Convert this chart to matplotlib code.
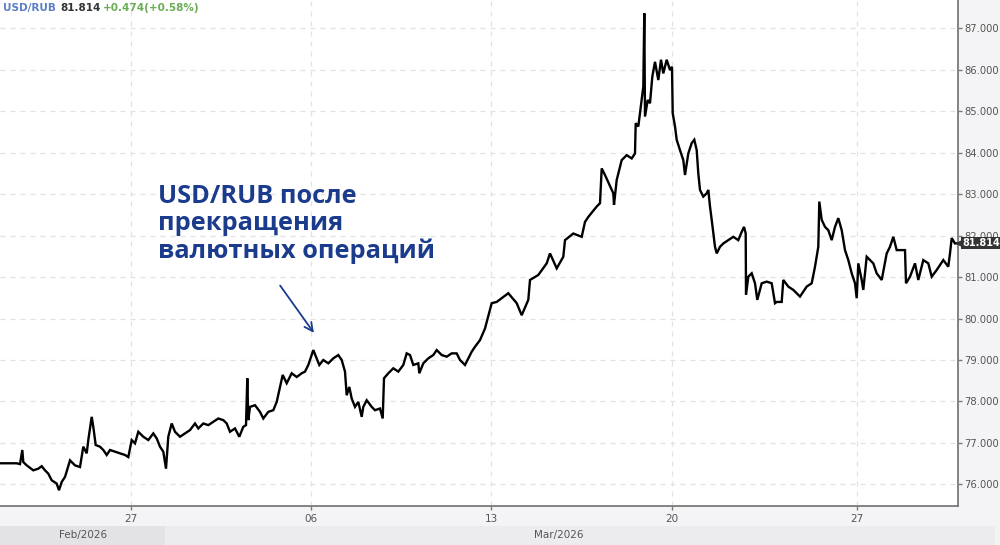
import matplotlib
matplotlib.use("Agg")
import matplotlib.pyplot as plt
from matplotlib.patches import Rectangle

# ---- data (time position in chart units, USD/RUB rate) ----
t = [0, 16.7, 20, 22.3, 23.3, 26.7, 33.3, 38.3, 41.7, 45, 48.3, 51.7, 56.7, 59, 61.7, 65,
     70, 75, 80, 83.3, 86.7, 88.3, 91.7, 93.3, 95.7, 100, 103.3, 106.7, 110, 115, 120, 125,
     128.3, 131.7, 135, 138.3, 143.3, 148.3, 153.3, 156.7, 160, 163.3, 166, 168.3, 171.7, 175,
     180, 185, 190, 195, 198.3, 203.3, 208.3, 213.3, 218.3, 223.3, 226.7, 230, 235, 239.3,
     243.3, 246, 247.3, 248.3, 250, 255, 260, 263.3, 268.3, 273.3, 276.7, 280, 282.7, 286.7,
     291.7, 296.7, 301.7, 305, 308.3, 311.7, 313.3, 316, 319.3, 323.3, 328.3, 333.3, 338.3,
     341.7, 345, 346.7, 349.3, 351.7, 355, 358.3, 361.7, 363.3, 366.7, 371.7, 375, 380, 382.7,
     384, 388.3, 393.3, 398.3, 403.3, 406.7, 410, 413.3, 418.3, 419.3, 423.3, 428.3, 433.3,
     436.7, 441.7, 446.7, 451.7, 456.7, 460, 465, 468.3, 471.7, 475, 480,
     485, 491.7, 496.7, 508.3, 516.7, 521.7, 528.3, 530, 538.3, 546.7, 550, 556.7, 563.3, 565,
     573.3, 581.7, 585, 588.3, 596.7, 600, 601.7, 605, 613.3, 614, 616.7, 621.7, 626.7, 631.7,
     635, 635.7, 638.3, 641.7, 643.3, 644.3, 645, 647.7, 650, 652.3, 655, 658.3, 661, 663.3,
     666.7, 670, 672, 672.7, 675, 676.7, 680, 683.3, 685, 688.3, 691.7, 694.3, 696.7, 698.3,
     700, 703.3, 706.7, 708.3, 710, 711.7, 715, 716.7, 720, 723.3, 728.3, 733.3, 738.3, 741.7,
     744, 745.7, 746, 748.3, 751.7, 755, 757.3, 761.7, 766.7, 771.7, 775, 776.7, 781.7, 783.3,
     788.3, 793.3, 800, 806.7, 811.7, 815, 818.3, 819.3, 821.7, 825, 828.3, 831.7, 835, 838.3,
     841.7, 845, 848.3, 851.7, 855, 856.7, 858.3, 861.7, 863.3, 866.7, 870, 873.3, 876.7,
     881.7, 886.7, 890, 893.3, 896.7, 905, 906, 910, 915, 918.3, 923.3, 928.3, 931.7, 936.7,
     943.3, 948.3, 950, 951.7, 955, 956.7]
rate = [76.51, 76.51, 76.49, 76.83, 76.54, 76.46, 76.34, 76.38, 76.44, 76.34, 76.26, 76.10,
        76.02, 75.86, 76.06, 76.18, 76.58, 76.46, 76.42, 76.91, 76.75, 77.07, 77.63, 77.39,
        76.95, 76.91, 76.83, 76.71, 76.83, 76.79, 76.75, 76.71, 76.66, 77.07, 76.99, 77.27,
        77.15, 77.07, 77.23, 77.11, 76.91, 76.79, 76.38, 77.15, 77.47, 77.27, 77.15, 77.23,
        77.31, 77.47, 77.35, 77.47, 77.43, 77.51, 77.59, 77.55, 77.47, 77.27, 77.35, 77.15,
        77.39, 77.43, 78.56, 77.55, 77.87, 77.91, 77.75, 77.59, 77.75, 77.79, 77.99, 78.35,
        78.64, 78.44, 78.68, 78.59, 78.68, 78.72, 78.88, 79.12, 79.24, 79.08, 78.88, 79.00,
        78.92, 79.04, 79.12, 79.00, 78.72, 78.15, 78.35, 78.07, 77.87, 77.99, 77.63, 77.87,
        78.03, 77.87, 77.79, 77.83, 77.59, 78.56, 78.68, 78.80, 78.72, 78.88, 79.16, 79.12,
        78.88, 78.92, 78.68, 78.92, 79.04, 79.12, 79.24, 79.12, 79.08, 79.16, 79.16, 79.00,
        78.88, 79.04, 79.20, 79.32, 79.48,
        79.76, 80.37, 80.40, 80.61, 80.37, 80.08, 80.45, 80.93, 81.05, 81.33, 81.57, 81.21,
        81.49, 81.89, 82.05, 81.97, 82.33, 82.45, 82.70, 82.78, 83.62, 83.46, 83.02, 82.74,
        83.34, 83.82, 83.94, 83.86, 83.98, 84.71, 84.63, 85.27, 85.59, 87.36, 84.87, 85.27,
        85.19, 85.83, 86.19, 85.75, 86.24, 85.91, 86.24, 85.99, 86.07, 84.95, 84.63, 84.31,
        84.06, 83.82, 83.46, 83.98, 84.23, 84.31, 84.06, 83.50, 83.10, 82.94, 83.02, 83.10,
        82.70, 82.38, 81.73, 81.57, 81.73, 81.81, 81.89, 81.97, 81.89, 82.09, 82.21, 82.05,
        80.57, 81.01, 81.09, 80.85, 80.45, 80.85, 80.89, 80.85, 80.37, 80.40, 80.40, 80.93,
        80.77, 80.69, 80.53, 80.77, 80.85, 81.25, 81.73, 82.82, 82.38, 82.21, 82.13, 81.89,
        82.21, 82.42, 82.13, 81.65, 81.41, 81.09, 80.85, 80.49, 81.33, 80.93, 80.69, 81.49,
        81.41, 81.33, 81.09, 80.93, 81.57, 81.73, 81.97, 81.65, 81.65, 80.85, 81.01, 81.33,
        80.93, 81.41, 81.33, 81.01, 81.17, 81.41, 81.25, 81.57, 81.94, 81.81, 81.814]

xtick_pos = [131, 311, 491, 672, 857]
xtick_labels = ["27", "06", "13", "20", "27"]
yticks = [76, 77, 78, 79, 80, 81, 82, 83, 84, 85, 86, 87]
last_price = 81.814
header_parts = [("USD/RUB", "#5b7ec6"), ("81.814", "#333333"), ("+0.474(+0.58%)", "#6aad55")]
month_labels = ["Feb/2026", "Mar/2026"]
note_text = "USD/RUB после\nпрекращения\nвалютных операций"

W, H = 1000, 545
fig = plt.figure(figsize=(W / 100, H / 100), dpi=100)
fig.patch.set_facecolor("#f4f4f6")

ax_left, ax_right, ax_bottom = 0, 958, 506
ax = fig.add_axes([ax_left / W, 1 - ax_bottom / H, (ax_right - ax_left) / W, ax_bottom / H])
ax.set_facecolor("white")
ax.set_xlim(0, 958)
ax.set_ylim(75.48, 87.68)

ax.plot(t, rate, color="black", lw=1.7, solid_joinstyle="miter", zorder=3)

# grid
for y in yticks:
    ax.axhline(y, color="#e2e2e2", lw=0.9, ls=(0, (4, 4)), zorder=1)
for x in xtick_pos:
    ax.axvline(x, color="#e2e2e2", lw=0.9, ls=(0, (4, 4)), zorder=1)

# spines / ticks
for s in ["top", "left"]:
    ax.spines[s].set_visible(False)
for s in ["right", "bottom"]:
    ax.spines[s].set_color("#7a7a7a")
    ax.spines[s].set_linewidth(1.3)
ax.yaxis.tick_right()
ax.set_yticks(yticks)
ax.set_yticklabels([f"{v:.3f}" for v in yticks])
ax.set_xticks(xtick_pos)
ax.set_xticklabels(xtick_labels)
ax.tick_params(axis="y", right=True, left=False, length=3, width=1, color="#7a7a7a",
               labelsize=7.2, labelcolor="#555555", pad=1.5)
ax.tick_params(axis="x", length=3, width=1, color="#7a7a7a", labelsize=7.5,
               labelcolor="#555555", pad=3)

# last price marker
ax.plot([960.5], [last_price], marker="<", color="#333333", markersize=6, clip_on=False, zorder=5)
ax.text(962, last_price, f"{last_price:.3f}", color="white", fontsize=7, fontweight="bold",
        va="center", ha="left", clip_on=False, zorder=6,
        bbox=dict(boxstyle="square,pad=0.12", fc="#333333", ec="none"))

# month band
fig.add_artist(Rectangle((0, 0), 995 / W, 19 / H, transform=fig.transFigure,
                         fc="#ececee", ec="none", zorder=0))
fig.add_artist(Rectangle((0, 0), 165 / W, 19 / H, transform=fig.transFigure,
                         fc="#e3e3e5", ec="none", zorder=0))
fig.text(83 / W, 1 - 535 / H, month_labels[0], fontsize=7.5,
         color="#555555", ha="center", va="center")
fig.text(559 / W, 1 - 535 / H, month_labels[1], fontsize=7.5,
         color="#555555", ha="center", va="center")

# header
hx = [3, 60, 103]
for (txt, col), x in zip(header_parts, hx):
    fig.text(x / W, 1 - 8 / H, txt, fontsize=7.5, fontweight="bold", color=col,
             ha="left", va="center")

# annotation
ax.annotate("", xy=(315.5, 79.6), xytext=(278.5, 80.85),
            arrowprops=dict(arrowstyle="->,head_length=0.6,head_width=0.3",
                            color="#1b3c8c", lw=1.3), zorder=6)
fig.text(158 / W, 1 - 184 / H, note_text, fontsize=18.3, fontweight="bold",
         family=["Open Sans", "DejaVu Sans"], color="#1b3c8c", ha="left", va="top",
         linespacing=1.12)

fig.savefig("out.png", dpi=100, facecolor=fig.get_facecolor())
